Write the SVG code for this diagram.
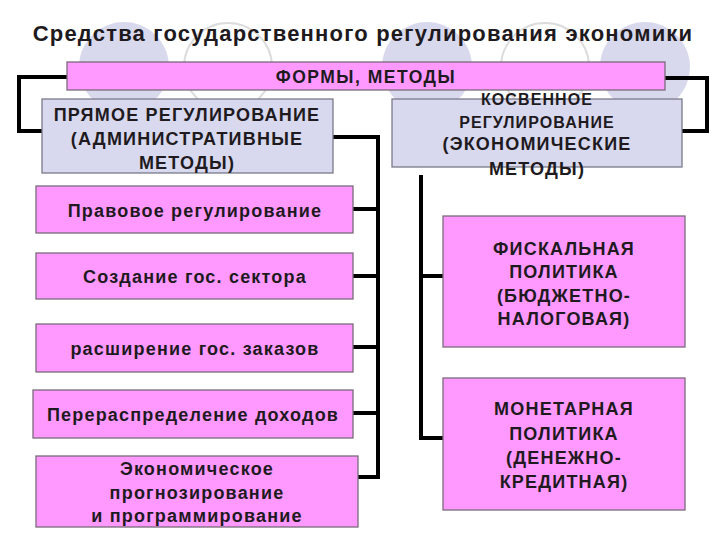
<svg xmlns="http://www.w3.org/2000/svg" width="720" height="540" viewBox="0 0 720 540">
<style>
.bgf{fill:#d9d9ee;stroke:none}
.bgo{fill:#ffffff;stroke:#dcdcdc;stroke-width:2}
.pink{fill:#ff99ff;stroke:#7a6a7a;stroke-width:1.3}
.lav{fill:#d8d8ee;stroke:#7a7a8a;stroke-width:1.3}
.t{font-family:"Liberation Sans",Arial,sans-serif;font-weight:bold;fill:#1e1a1e;text-anchor:middle;font-size:18px;letter-spacing:1.2px}
.s{font-size:16px;letter-spacing:1.1px}
.conn{fill:none;stroke:#000;stroke-width:4;stroke-linejoin:miter;stroke-linecap:butt}
</style>
<rect width="720" height="540" fill="#ffffff"/>
<g id="background">
<circle class="bgf" cx="124" cy="67" r="45"/>
<circle class="bgo" cx="228" cy="67" r="44"/>
<circle class="bgf" cx="427" cy="67" r="45"/>
<circle class="bgo" cx="545" cy="67" r="44"/>
<circle class="bgf" cx="645" cy="67" r="45"/>
</g>
<g id="title"><text class="t" x="363" y="41" style="font-size:22px;letter-spacing:1.2px">Средства государственного  регулирования экономики</text></g>
<g id="connectors">
<path class="conn" d="M67,77 H19 V131 H42"/>
<path class="conn" d="M665,78 H707 V131 H682"/>
<path class="conn" d="M333,137 H378 V477 H358"/>
<path class="conn" d="M353,209 H378 M353,276 H378 M353,347 H378 M353,413 H378"/>
<path class="conn" d="M421,175 V438 H443 M421,276 H443"/>
</g>
<g id="forms">
<rect class="pink" x="67" y="62" width="598" height="28"/>
<text class="t" x="366" y="83" style="font-size:17.5px;letter-spacing:1.5px">ФОРМЫ, МЕТОДЫ</text>
</g>
<g id="direct">
<rect class="lav" x="42" y="99" width="291" height="74"/>
<text class="t" x="187" y="121">ПРЯМОЕ РЕГУЛИРОВАНИЕ</text>
<text class="t" x="187" y="145">(АДМИНИСТРАТИВНЫЕ</text>
<text class="t" x="187" y="169">МЕТОДЫ)</text>
</g>
<g id="indirect">
<rect class="lav" x="392" y="99" width="290" height="68"/>
<text class="t s" x="537" y="105">КОСВЕННОЕ</text>
<text class="t s" x="537" y="128">РЕГУЛИРОВАНИЕ</text>
<text class="t" x="537" y="150">(ЭКОНОМИЧЕСКИЕ</text>
<text class="t" x="537" y="175">МЕТОДЫ)</text>
</g>
<g id="legal">
<rect class="pink" x="36" y="186" width="317" height="47"/>
<text class="t" x="195" y="217">Правовое регулирование</text>
</g>
<g id="sector">
<rect class="pink" x="36" y="253" width="317" height="46"/>
<text class="t" x="195" y="283">Создание гос. сектора</text>
</g>
<g id="orders">
<rect class="pink" x="36" y="324" width="317" height="48"/>
<text class="t" x="195" y="355">расширение гос. заказов</text>
</g>
<g id="redistribution">
<rect class="pink" x="33" y="390" width="320" height="48"/>
<text class="t" x="193" y="421">Перераспределение доходов</text>
</g>
<g id="forecast">
<rect class="pink" x="36" y="456" width="322" height="71"/>
<text class="t" x="197" y="475">Экономическое</text>
<text class="t" x="197" y="499">прогнозирование</text>
<text class="t" x="197" y="522">и программирование</text>
</g>
<g id="fiscal">
<rect class="pink" x="443" y="216" width="242" height="131"/>
<text class="t" x="564" y="255">ФИСКАЛЬНАЯ</text>
<text class="t" x="564" y="278">ПОЛИТИКА</text>
<text class="t" x="564" y="302">(БЮДЖЕТНО-</text>
<text class="t" x="564" y="325">НАЛОГОВАЯ)</text>
</g>
<g id="monetary">
<rect class="pink" x="443" y="378" width="242" height="132"/>
<text class="t" x="564" y="415">МОНЕТАРНАЯ</text>
<text class="t" x="564" y="440">ПОЛИТИКА</text>
<text class="t" x="564" y="464">(ДЕНЕЖНО-</text>
<text class="t" x="564" y="488">КРЕДИТНАЯ)</text>
</g>
</svg>
